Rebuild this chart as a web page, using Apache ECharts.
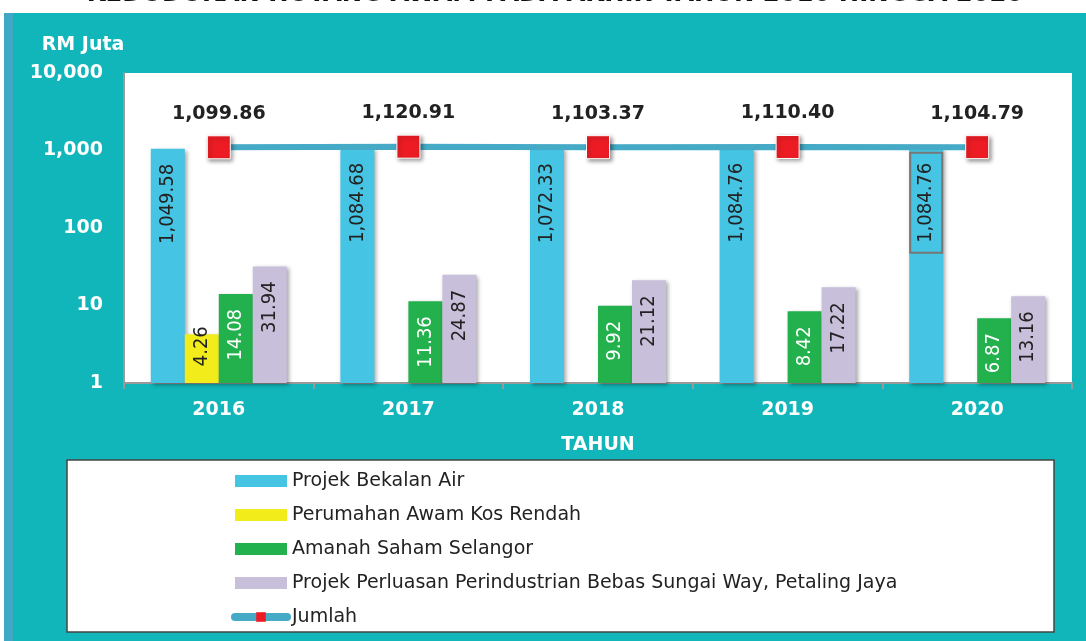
<!DOCTYPE html>
<html><head><meta charset="utf-8">
<script src="https://cdn.jsdelivr.net/npm/echarts@6/dist/echarts.min.js"></script>
<style>html,body{margin:0;padding:0;background:#fff}#c{width:1086px;height:641px}</style>
</head><body><div id="c"></div>
<script>
const categories = ['2016', '2017', '2018', '2019', '2020'];
const projekBekalanAir = [1049.58, 1084.68, 1072.33, 1084.76, 1084.76];
const perumahanAwam = [4.26, null, null, null, null];
const amanahSaham = [14.08, 11.36, 9.92, 8.42, 6.87];
const projekPerluasan = [31.94, 24.87, 21.12, 17.22, 13.16];
const jumlah = [1099.86, 1120.91, 1103.37, 1110.40, 1104.79];
const seriesNames = ['Projek Bekalan Air', 'Perumahan Awam Kos Rendah', 'Amanah Saham Selangor', 'Projek Perluasan Perindustrian Bebas Sungai Way, Petaling Jaya', 'Jumlah'];
const titleText = 'KEDUDUKAN HUTANG AWAM PADA AKHIR TAHUN 2016 HINGGA 2020';

const TEAL = '#10B6BA';
const FONT = '"DejaVu Sans Condensed", "DejaVu Sans", sans-serif';
const FONT_R = '"DejaVu Sans", sans-serif';
const fmt2 = v => Number(v).toLocaleString('en-US', {minimumFractionDigits: 2, maximumFractionDigits: 2});
const fmtAxis = v => Number(v).toLocaleString('en-US');

const barShadow = {shadowBlur: 4, shadowColor: 'rgba(0,0,0,0.35)', shadowOffsetX: 2, shadowOffsetY: 2};
function barLabel(color, distance) {
  return {
    show: true, position: 'insideTop', rotate: 90, align: 'right', verticalAlign: 'middle',
    distance: distance, color: color, fontSize: 20, fontFamily: FONT,
    formatter: p => fmt2(p.value)
  };
}
function barSeries(name, data, color, labelColor, distance) {
  return {
    name: name, type: 'bar', barWidth: 34, barGap: '0%',
    data: data,
    itemStyle: Object.assign({color: color}, barShadow),
    label: barLabel(labelColor, distance)
  };
}

const blueData = projekBekalanAir.map((v, i) => i === 4 ? {
  value: v,
  label: {borderColor: '#777', borderWidth: 2, padding: [6, 10, 6, 10], distance: 5}
} : v);

const chart = echarts.init(document.getElementById('c'));
chart.setOption({
  animation: false,
  backgroundColor: '#fff',
  textStyle: {fontFamily: FONT},
  graphic: [
    {type: 'rect', z: -10, shape: {x: 4, y: 13, width: 1082, height: 628}, style: {fill: TEAL}},
    {type: 'rect', z: -9, shape: {x: 4, y: 13, width: 9, height: 628}, style: {fill: '#3FA8C4'}},
    {type: 'rect', z: -5, shape: {x: 67, y: 460, width: 987, height: 172}, style: {fill: '#fff', stroke: '#444', lineWidth: 1.5}},
    {type: 'text', z: 50, x: 555, y: -6, style: {text: titleText, fill: '#111', font: 'bold 27px ' + FONT, align: 'center', verticalAlign: 'middle'}},
    {type: 'text', z: 50, x: 83, y: 45, style: {text: 'RM Juta', fill: '#fff', font: 'bold 19px ' + FONT_R, align: 'center', verticalAlign: 'middle'}}
  ],
  grid: {left: 124, right: 14, top: 73, bottom: 258, show: true, backgroundColor: '#fff', borderWidth: 0},
  legend: {
    orient: 'vertical', left: 226, top: 466,
    itemWidth: 52, itemHeight: 12, itemGap: 14,
    textStyle: {color: '#222', fontSize: 19, fontFamily: FONT_R, lineHeight: 20},
    data: [
      {name: seriesNames[0], icon: 'rect'},
      {name: seriesNames[1], icon: 'rect'},
      {name: seriesNames[2], icon: 'rect'},
      {name: seriesNames[3], icon: 'rect'},
      {name: seriesNames[4], lineStyle: {width: 8, cap: 'round'}, itemStyle: {borderWidth: 0}}
    ]
  },
  xAxis: {
    type: 'category', data: categories,
    axisLine: {lineStyle: {color: '#999', width: 2}},
    axisTick: {show: true, length: 6, lineStyle: {color: '#999', width: 2}},
    axisLabel: {color: '#fff', fontWeight: 'bold', fontSize: 19, margin: 18, fontFamily: FONT_R},
    name: 'TAHUN', nameLocation: 'middle', nameGap: 53,
    nameTextStyle: {color: '#fff', fontWeight: 'bold', fontSize: 19, fontFamily: FONT_R}
  },
  yAxis: {
    type: 'log', logBase: 10, min: 1, max: 10000,
    axisLine: {show: true, lineStyle: {color: '#999', width: 2}},
    axisTick: {show: false},
    splitLine: {show: false},
    axisLabel: {color: '#fff', fontWeight: 'bold', fontSize: 19, margin: 21, fontFamily: FONT_R, formatter: fmtAxis}
  },
  series: [
    barSeries(seriesNames[0], blueData, '#45C4E4', '#222', 15),
    barSeries(seriesNames[1], perumahanAwam, '#F2EC1A', '#222', -8),
    barSeries(seriesNames[2], amanahSaham, '#22B14C', '#fff', 15),
    barSeries(seriesNames[3], projekPerluasan, '#C8BFDA', '#222', 15),
    {
      name: seriesNames[4], type: 'line', data: jumlah, z: 5,
      symbol: 'rect', symbolSize: 23,
      lineStyle: {color: '#45AAC6', width: 6},
      itemStyle: {color: '#ED1C24', borderColor: '#fff', borderWidth: 1, shadowBlur: 4, shadowColor: 'rgba(0,0,0,0.4)', shadowOffsetX: 2, shadowOffsetY: 2},
      label: {show: true, position: 'top', distance: 12, color: '#222', fontSize: 19, fontWeight: 'bold', fontFamily: FONT_R, formatter: p => fmt2(p.value)}
    }
  ]
});
</script>
</body></html>
